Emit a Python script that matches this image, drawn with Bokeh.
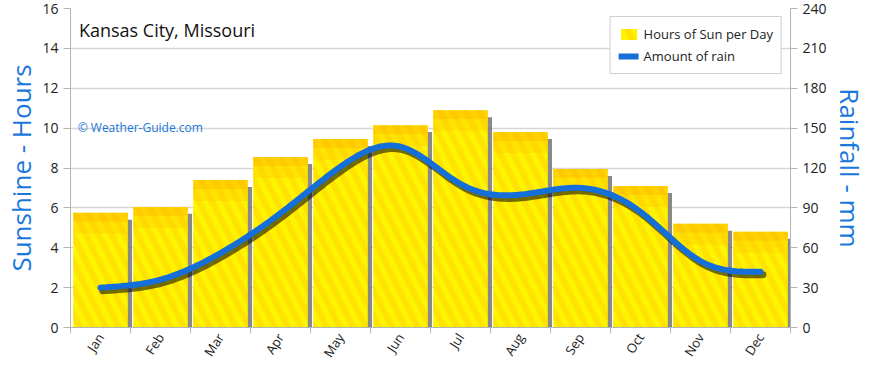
import numpy as np
from bokeh.plotting import figure
from bokeh.models import Range1d, LinearAxis, FixedTicker, Label, Legend, LegendItem
from bokeh.embed import file_html
from bokeh.resources import INLINE

# ---- data ----
months = ["Jan", "Feb", "Mar", "Apr", "May", "Jun", "Jul", "Aug", "Sep", "Oct", "Nov", "Dec"]
sun_hours = [5.75, 6.05, 7.4, 8.55, 9.45, 10.15, 10.9, 9.8, 7.95, 7.1, 5.2, 4.8]
rain_mm = [30, 36, 56, 86, 121, 136, 108, 100, 105, 87, 50, 42]
sun_ticks = [0, 2, 4, 6, 8, 10, 12, 14, 16]
rain_ticks = [0, 30, 60, 90, 120, 150, 180, 210, 240]

FONT = "Open Sans"
BLUE = "#1470D8"
LABEL_BLUE = "#1A78DC"
GRID = "#d6d6d6"
AXIS = "#b4b4b4"


def natural_spline(xs, ys, n=30):
    x = np.asarray(xs, float)
    y = np.asarray(ys, float)
    N = len(x)
    h = np.diff(x)
    A = np.zeros((N, N))
    b = np.zeros(N)
    A[0, 0] = 1
    A[-1, -1] = 1
    for i in range(1, N - 1):
        A[i, i - 1] = h[i - 1]
        A[i, i] = 2 * (h[i - 1] + h[i])
        A[i, i + 1] = h[i]
        b[i] = 3 * ((y[i + 1] - y[i]) / h[i] - (y[i] - y[i - 1]) / h[i - 1])
    c = np.linalg.solve(A, b)
    bb = (y[1:] - y[:-1]) / h - h * (2 * c[:-1] + c[1:]) / 3
    d = (c[1:] - c[:-1]) / (3 * h)
    ox, oy = [], []
    for i in range(N - 1):
        t = np.linspace(0, h[i], n, endpoint=(i == N - 2))
        ox.extend(x[i] + t)
        oy.extend(y[i] + bb[i] * t + c[i] * t ** 2 + d[i] * t ** 3)
    return np.array(ox), np.array(oy)


xpos = list(range(len(months)))

p = figure(width=870, height=368, output_backend="svg", toolbar_location=None,
           x_range=Range1d(-0.5, 11.5), y_range=Range1d(0, 16),
           min_border_left=70, min_border_right=78, min_border_top=8, min_border_bottom=40)
p.outline_line_color = None
p.background_fill_color = "white"
p.border_fill_color = "white"
p.extra_y_ranges = {"rain": Range1d(0, 240)}

# grid
p.xgrid.grid_line_color = None
p.ygrid.grid_line_color = GRID
p.ygrid.grid_line_width = 1.5
p.ygrid.ticker = FixedTicker(ticks=sun_ticks)

# x axis
xa = p.xaxis[0]
xa.ticker = FixedTicker(ticks=xpos, minor_ticks=[i - 0.5 for i in range(len(months) + 1)])
xa.major_label_overrides = {i: m for i, m in enumerate(months)}
xa.major_label_orientation = 1.0
xa.major_tick_in = 0
xa.major_tick_out = 0
xa.minor_tick_in = 0
xa.minor_tick_out = 6
xa.minor_tick_line_color = AXIS
xa.axis_line_color = AXIS
xa.major_label_text_font = FONT
xa.major_label_text_font_size = "13px"
xa.major_label_text_color = "#222222"
xa.major_label_standoff = 1

# left axis
ya = p.yaxis[0]
ya.ticker = FixedTicker(ticks=sun_ticks)
ya.minor_tick_line_color = None
ya.major_tick_in = 0
ya.major_tick_out = 7
ya.major_tick_line_color = AXIS
ya.axis_line_color = AXIS
ya.major_label_text_font = FONT
ya.major_label_text_font_size = "14px"
ya.major_label_text_color = "#222222"
ya.major_label_standoff = 5
ya.axis_label = "Sunshine - Hours"
ya.axis_label_text_font = FONT
ya.axis_label_text_font_size = "26px"
ya.axis_label_text_font_style = "normal"
ya.axis_label_text_color = LABEL_BLUE
ya.axis_label_standoff = 0

# right axis
ra = LinearAxis(y_range_name="rain", ticker=FixedTicker(ticks=rain_ticks))
ra.minor_tick_line_color = None
ra.major_tick_in = 0
ra.major_tick_out = 7
ra.major_tick_line_color = AXIS
ra.axis_line_color = AXIS
ra.major_label_text_font = FONT
ra.major_label_text_font_size = "14px"
ra.major_label_text_color = "#222222"
ra.major_label_standoff = 5
ra.axis_label = "Rainfall - mm"
ra.axis_label_text_font = FONT
ra.axis_label_text_font_size = "26px"
ra.axis_label_text_font_style = "normal"
ra.axis_label_text_color = LABEL_BLUE
ra.axis_label_standoff = 2
p.add_layout(ra, "right")

# bars: shadow, body, top orange bands
sun = np.array(sun_hours)
xs = np.array(xpos, float)
p.vbar(x=xs + 0.07, top=sun - 0.35, bottom=0, width=0.91,
       fill_color="#7c7c7c", line_color=None, fill_alpha=0.9)
bars = p.vbar(x=xs, top=sun, bottom=0, width=0.91, fill_color="#FFF400", line_color=None,
              hatch_pattern="\\", hatch_scale=26, hatch_weight=6,
              hatch_color="#FFC400", hatch_alpha=0.35)
p.vbar(x=xs, top=sun, bottom=sun - 0.45, width=0.91, fill_color="#FFB000",
       fill_alpha=0.5, line_color=None)
p.vbar(x=xs, top=sun - 0.45, bottom=sun - 1.05, width=0.91, fill_color="#FFC000",
       fill_alpha=0.3, line_color=None)

# rain line with shadow
sx, sy = natural_spline(xpos, rain_mm)
p.line(sx + 0.04, sy - 2.3, y_range_name="rain", line_color="#000000", line_alpha=0.55,
       line_width=7, line_cap="round", line_join="round")
rl = p.line(sx, sy, y_range_name="rain", line_color=BLUE, line_width=6,
            line_cap="round", line_join="round")

legend = Legend(items=[LegendItem(label="Hours of Sun per Day", renderers=[bars]),
                       LegendItem(label="Amount of rain", renderers=[rl])],
                location="top_right")
legend.margin = 8
legend.padding = 8
legend.spacing = 4
legend.glyph_height = 14
legend.glyph_width = 20
legend.label_height = 16
legend.label_standoff = 5
legend.label_text_font = FONT
legend.label_text_font_size = "13px"
legend.label_text_color = "#222222"
legend.border_line_color = "#a0a0a0"
legend.border_line_width = 1
legend.background_fill_color = "white"
legend.background_fill_alpha = 1.0
p.add_layout(legend)

# texts
p.add_layout(Label(x=-0.36, y=14.9, text="Kansas City, Missouri", text_font=FONT,
                   text_font_size="18px", text_color="#111111", text_baseline="middle"))
p.add_layout(Label(x=-0.38, y=10.05, text="© Weather-Guide.com", text_font=FONT,
                   text_font_size="12px", text_color=LABEL_BLUE, text_baseline="middle"))

open("out.html", "w").write(file_html(p, INLINE))
